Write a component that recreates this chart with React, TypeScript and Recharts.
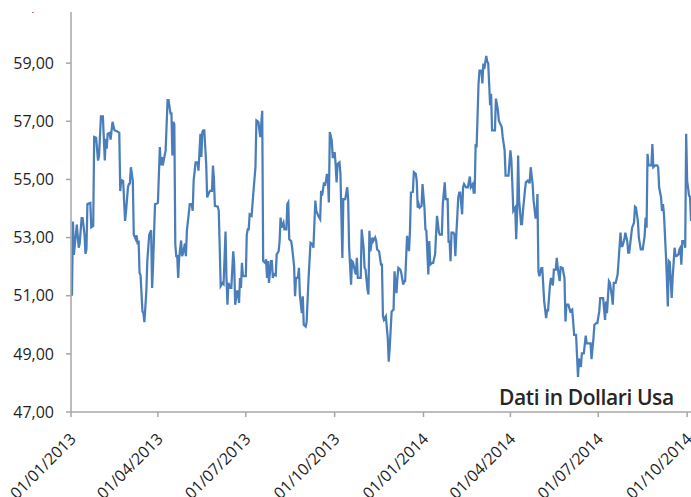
import { LineChart, Line, XAxis, YAxis } from "recharts";

// trading days, 01/01/2013 → early 10/2014
const dates = [
  "2013-01-02","2013-01-03","2013-01-04","2013-01-07","2013-01-09","2013-01-10","2013-01-12","2013-01-13","2013-01-15","2013-01-16",
  "2013-01-17","2013-01-18","2013-01-21","2013-01-22","2013-01-24","2013-01-25","2013-01-27","2013-01-29","2013-01-30","2013-02-01",
  "2013-02-03","2013-02-05","2013-02-06","2013-02-07","2013-02-08","2013-02-10","2013-02-11","2013-02-13","2013-02-15","2013-02-18",
  "2013-02-20","2013-02-21","2013-02-22","2013-02-24","2013-02-26","2013-02-27","2013-03-01","2013-03-02","2013-03-03","2013-03-04",
  "2013-03-06","2013-03-07","2013-03-09","2013-03-10","2013-03-11","2013-03-12","2013-03-13","2013-03-14","2013-03-16","2013-03-17",
  "2013-03-18","2013-03-20","2013-03-21","2013-03-23","2013-03-25","2013-03-26","2013-03-27","2013-03-29","2013-03-31","2013-04-01",
  "2013-04-03","2013-04-04","2013-04-05","2013-04-06","2013-04-09","2013-04-11","2013-04-12","2013-04-14","2013-04-15","2013-04-16",
  "2013-04-17","2013-04-18","2013-04-19","2013-04-20","2013-04-21","2013-04-22","2013-04-23","2013-04-25","2013-04-26","2013-04-27",
  "2013-04-29","2013-04-30","2013-05-01","2013-05-04","2013-05-06","2013-05-07","2013-05-08","2013-05-10","2013-05-12","2013-05-13",
  "2013-05-15","2013-05-16","2013-05-17","2013-05-18","2013-05-19","2013-05-21","2013-05-22","2013-05-24","2013-05-25","2013-05-27",
  "2013-05-28","2013-05-29","2013-05-30","2013-06-02","2013-06-03","2013-06-04","2013-06-05","2013-06-07","2013-06-08","2013-06-10",
  "2013-06-11","2013-06-12","2013-06-13","2013-06-15","2013-06-16","2013-06-18","2013-06-19","2013-06-20","2013-06-22","2013-06-23",
  "2013-06-24","2013-06-25","2013-06-26","2013-06-27","2013-06-28","2013-07-01","2013-07-02","2013-07-03","2013-07-04","2013-07-05",
  "2013-07-07","2013-07-09","2013-07-11","2013-07-12","2013-07-14","2013-07-16","2013-07-18","2013-07-19","2013-07-21","2013-07-22",
  "2013-07-23","2013-07-24","2013-07-25","2013-07-27","2013-07-28","2013-07-29","2013-07-30","2013-08-01","2013-08-02","2013-08-04",
  "2013-08-05","2013-08-06","2013-08-07","2013-08-09","2013-08-10","2013-08-12","2013-08-13","2013-08-14","2013-08-15","2013-08-17",
  "2013-08-18","2013-08-20","2013-08-21","2013-08-22","2013-08-24","2013-08-25","2013-08-26","2013-08-28","2013-08-29","2013-08-30",
  "2013-09-01","2013-09-02","2013-09-04","2013-09-06","2013-09-08","2013-09-09","2013-09-11","2013-09-12","2013-09-14","2013-09-16",
  "2013-09-17","2013-09-18","2013-09-20","2013-09-21","2013-09-22","2013-09-23","2013-09-24","2013-09-25","2013-09-26","2013-09-28",
  "2013-09-29","2013-09-30","2013-10-01","2013-10-02","2013-10-03","2013-10-04","2013-10-06","2013-10-07","2013-10-09","2013-10-10",
  "2013-10-12","2013-10-14","2013-10-15","2013-10-16","2013-10-18","2013-10-19","2013-10-20","2013-10-22","2013-10-23","2013-10-24",
  "2013-10-25","2013-10-27","2013-10-28","2013-10-29","2013-10-31","2013-11-01","2013-11-02","2013-11-04","2013-11-05","2013-11-06",
  "2013-11-07","2013-11-09","2013-11-10","2013-11-12","2013-11-13","2013-11-14","2013-11-16","2013-11-18","2013-11-19","2013-11-20",
  "2013-11-21","2013-11-23","2013-11-25","2013-11-26","2013-11-27","2013-11-29","2013-12-01","2013-12-02","2013-12-04","2013-12-05",
  "2013-12-06","2013-12-08","2013-12-09","2013-12-11","2013-12-12","2013-12-13","2013-12-15","2013-12-17","2013-12-18","2013-12-19",
  "2013-12-21","2013-12-22","2013-12-24","2013-12-25","2013-12-26","2013-12-27","2013-12-28","2013-12-30","2013-12-31","2014-01-02",
  "2014-01-03","2014-01-04","2014-01-06","2014-01-07","2014-01-08","2014-01-10","2014-01-11","2014-01-13","2014-01-14","2014-01-15",
  "2014-01-17","2014-01-18","2014-01-20","2014-01-21","2014-01-23","2014-01-24","2014-01-26","2014-01-27","2014-01-28","2014-01-29",
  "2014-01-30","2014-02-01","2014-02-02","2014-02-03","2014-02-04","2014-02-06","2014-02-07","2014-02-08","2014-02-10","2014-02-11",
  "2014-02-12","2014-02-14","2014-02-15","2014-02-16","2014-02-18","2014-02-19","2014-02-21","2014-02-22","2014-02-23","2014-02-24",
  "2014-02-25","2014-02-27","2014-02-28","2014-03-02","2014-03-03","2014-03-04","2014-03-05","2014-03-07","2014-03-08","2014-03-09",
  "2014-03-11","2014-03-12","2014-03-13","2014-03-14","2014-03-16","2014-03-17","2014-03-19","2014-03-20","2014-03-21","2014-03-23",
  "2014-03-24","2014-03-26","2014-03-27","2014-03-29","2014-03-30","2014-04-01","2014-04-02","2014-04-03","2014-04-04","2014-04-06",
  "2014-04-07","2014-04-08","2014-04-09","2014-04-10","2014-04-12","2014-04-13","2014-04-14","2014-04-16","2014-04-17","2014-04-19",
  "2014-04-20","2014-04-21","2014-04-22","2014-04-24","2014-04-25","2014-04-27","2014-04-28","2014-04-29","2014-04-30","2014-05-01",
  "2014-05-03","2014-05-04","2014-05-06","2014-05-08","2014-05-09","2014-05-10","2014-05-12","2014-05-13","2014-05-15","2014-05-16",
  "2014-05-18","2014-05-19","2014-05-20","2014-05-22","2014-05-23","2014-05-25","2014-05-27","2014-05-28","2014-05-29","2014-05-31",
  "2014-06-02","2014-06-04","2014-06-05","2014-06-06","2014-06-08","2014-06-10","2014-06-11","2014-06-13","2014-06-14","2014-06-16",
  "2014-06-18","2014-06-19","2014-06-21","2014-06-23","2014-06-24","2014-06-26","2014-06-27","2014-06-29","2014-06-30","2014-07-02",
  "2014-07-03","2014-07-05","2014-07-06","2014-07-08","2014-07-09","2014-07-10","2014-07-12","2014-07-13","2014-07-15","2014-07-16",
  "2014-07-17","2014-07-19","2014-07-21","2014-07-22","2014-07-24","2014-07-25","2014-07-26","2014-07-28","2014-07-29","2014-07-31",
  "2014-08-01","2014-08-02","2014-08-04","2014-08-05","2014-08-07","2014-08-08","2014-08-09","2014-08-11","2014-08-12","2014-08-14",
  "2014-08-15","2014-08-16","2014-08-18","2014-08-19","2014-08-20","2014-08-21","2014-08-22","2014-08-24","2014-08-25","2014-08-26",
  "2014-08-27","2014-08-29","2014-08-31","2014-09-01","2014-09-02","2014-09-04","2014-09-05","2014-09-06","2014-09-07","2014-09-09",
  "2014-09-10","2014-09-11","2014-09-12","2014-09-13","2014-09-15","2014-09-16","2014-09-18","2014-09-19","2014-09-20","2014-09-22",
  "2014-09-23","2014-09-24","2014-09-25","2014-09-26","2014-09-28","2014-09-29","2014-09-30","2014-10-01","2014-10-03","2014-10-04",
  "2014-10-05",
];

// prezzo in dollari
const prices = [
  51.0,53.55,52.4,53.45,52.65,52.8,53.67,53.67,53.1,52.44,
  52.6,54.15,54.19,53.35,53.4,56.46,56.43,55.65,55.8,57.17,
  57.17,55.65,56.4,56.06,56.57,56.6,56.37,56.98,56.69,56.65,
  56.6,54.6,54.98,54.95,53.57,53.9,54.73,54.84,54.86,55.42,
  54.96,53.1,52.95,53.08,52.77,52.9,51.78,51.7,50.46,50.4,
  50.09,51.15,52.19,53.1,53.25,51.27,52.07,54.15,54.17,54.2,
  56.11,55.48,55.77,55.48,56.0,57.73,57.73,57.27,57.27,55.82,
  56.98,56.9,52.77,52.36,52.36,51.61,52.3,52.9,52.36,52.45,
  52.8,52.36,53.23,54.15,54.15,53.92,54.96,55.59,55.59,55.3,
  56.57,55.77,56.63,56.69,56.69,55.53,54.38,54.55,54.61,54.61,
  55.48,55.02,54.09,54.06,53.92,52.65,51.33,51.44,51.4,53.21,
  51.61,50.69,51.44,51.27,51.27,52.53,52.07,50.69,51.15,51.15,
  50.75,51.61,51.27,52.13,51.67,51.67,53.1,53.28,53.28,53.8,
  53.75,54.61,55.42,57.03,56.98,56.46,57.36,52.19,52.13,52.25,
  51.61,52.19,51.44,52.19,52.19,51.61,51.75,51.7,52.42,52.53,
  52.88,53.69,53.34,53.51,53.28,53.28,54.15,54.21,52.94,52.88,
  52.65,52.02,50.98,51.61,51.61,51.96,51.04,50.4,50.98,50.0,
  49.94,50.1,51.61,52.82,52.77,52.65,54.27,53.92,53.75,53.63,
  54.61,54.44,54.9,54.78,54.95,55.19,55.0,54.21,56.63,56.34,
  55.77,55.77,55.94,55.53,54.9,55.53,55.59,55.19,52.3,54.32,
  54.32,54.73,54.32,52.65,51.38,52.19,52.15,51.84,51.73,52.3,
  51.61,51.61,51.61,53.28,52.65,51.96,51.9,51.21,51.04,53.23,
  52.53,53.0,52.88,53.0,52.88,52.59,52.53,52.07,52.07,50.29,
  50.17,50.29,49.54,48.73,49.19,50.46,50.52,51.84,51.09,51.61,
  51.96,51.9,51.78,51.38,51.5,51.5,53.06,52.53,53.23,54.55,
  54.57,55.25,55.19,54.96,54.03,54.15,54.03,54.09,54.84,54.03,
  53.28,53.23,51.73,52.88,52.07,52.13,52.13,52.42,53.1,53.75,
  53.17,53.1,53.1,54.15,54.9,54.32,54.32,52.82,52.9,52.19,
  53.17,53.17,53.1,52.36,53.1,54.38,54.55,54.55,53.8,54.73,
  54.84,54.73,54.73,54.73,55.1,54.73,54.84,54.55,54.55,56.22,
  56.1,58.3,58.74,58.74,58.3,58.99,58.8,59.25,59.05,59.0,
  57.55,57.95,56.69,56.69,56.69,57.78,57.4,57.03,56.95,56.8,
  56.46,56.0,55.13,55.13,55.13,56.0,55.65,54.84,53.92,54.03,
  52.94,53.92,55.82,54.3,53.46,53.46,53.92,54.61,54.9,54.96,
  54.9,54.9,55.42,54.84,54.27,53.69,53.69,54.5,51.84,51.67,
  51.95,51.95,50.8,50.23,50.5,50.5,51.38,51.61,51.35,51.9,
  51.9,52.3,51.96,51.5,51.98,51.96,51.61,50.11,50.69,50.69,
  50.46,50.52,50.11,49.65,49.65,48.21,48.84,48.55,49.02,49.02,
  49.63,49.36,49.36,49.36,48.82,49.54,50.0,50.06,50.06,50.46,
  50.92,50.92,50.92,50.17,50.8,50.4,51.5,51.44,51.0,50.69,
  51.44,51.44,51.73,52.19,53.17,52.71,52.71,52.94,53.17,52.88,
  52.48,52.48,53.06,53.34,53.51,54.06,54.03,53.57,53.0,52.59,
  52.59,52.59,53.06,53.69,53.34,55.88,55.48,55.48,55.48,56.22,
  55.42,55.48,55.48,55.42,54.73,54.38,53.92,54.15,53.8,52.42,
  51.61,50.63,52.19,52.15,50.92,51.61,52.65,52.36,52.36,52.42,
  52.59,52.65,52.07,52.88,52.88,52.65,56.57,54.96,54.44,54.4,
  53.57,
];

const xStart = "2013-01-01";
const xEnd = "2014-10-05";
const xTicks = ["2013-01-01","2013-04-01","2013-07-01","2013-10-01","2014-01-01","2014-04-01","2014-07-01","2014-10-01"];
const yTicks = [47, 49, 51, 53, 55, 57, 59, 61];
const unitNote = "Dati in Dollari Usa";

const toTime = (s: string) => {
  const [y, m, d] = s.split("-").map(Number);
  return Date.UTC(y, m - 1, d);
};

const data = dates.map((d, i) => ({ t: toTime(d), price: prices[i] }));

const pad = (n: number) => String(n).padStart(2, "0");
const fmtDate = (t: number) => {
  const d = new Date(t);
  return `${pad(d.getUTCDate())}/${pad(d.getUTCMonth() + 1)}/${d.getUTCFullYear()}`;
};

const FONT = "'Open Sans', 'DejaVu Sans', sans-serif";

function DateTick({ x, y, payload }: any) {
  return (
    <g transform={`translate(${x + 2},${y + 17})`}>
      <text
        x={0}
        y={0}
        dy="0.35em"
        textAnchor="end"
        transform="rotate(-45)"
        fill="#1f1f1f"
        fontSize={16}
        fontFamily={FONT}
      >
        {fmtDate(payload.value)}
      </text>
    </g>
  );
}

export default function App() {
  return (
    <div
      style={{
        position: "absolute",
        left: 0,
        top: 0,
        width: 691,
        height: 497,
        background: "#fff",
        overflow: "hidden",
      }}
    >
      <LineChart
        width={691}
        height={497}
        data={data}
        margin={{ top: 5, right: 0, bottom: 0, left: 0 }}
      >
        <XAxis
          dataKey="t"
          type="number"
          scale="time"
          domain={[toTime(xStart), toTime(xEnd)]}
          ticks={xTicks.map(toTime)}
          tick={<DateTick />}
          interval={0}
          height={85}
          axisLine={{ stroke: "#a6a6a6", strokeWidth: 1.5 }}
          tickLine={{ stroke: "#a6a6a6", strokeWidth: 1.5 }}
          tickSize={5}
        />
        <YAxis
          type="number"
          domain={[47, 61]}
          ticks={yTicks}
          interval={0}
          width={71}
          tickFormatter={(v: number) => v.toFixed(2).replace(".", ",")}
          tick={{ fill: "#1f1f1f", fontSize: 16, fontFamily: FONT }}
          tickMargin={12}
          tickSize={5}
          axisLine={{ stroke: "#a6a6a6", strokeWidth: 1.5 }}
          tickLine={{ stroke: "#a6a6a6", strokeWidth: 1.5 }}
        />
        <Line
          type="linear"
          dataKey="price"
          stroke="#4a7ebb"
          strokeWidth={2.25}
          dot={false}
          activeDot={false}
          isAnimationActive={false}
        />
      </LineChart>
      {/* the reference is cropped just under the top label */}
      <div
        style={{
          position: "absolute",
          left: 0,
          top: 0,
          width: 691,
          height: 12,
          background: "#fff",
        }}
      />
      <div
        style={{
          position: "absolute",
          left: 499,
          top: 383,
          fontFamily: FONT,
          fontSize: 21,
          fontWeight: 600,
          color: "#262626",
          letterSpacing: -0.4,
          whiteSpace: "nowrap",
        }}
      >
        {unitNote}
      </div>
    </div>
  );
}
